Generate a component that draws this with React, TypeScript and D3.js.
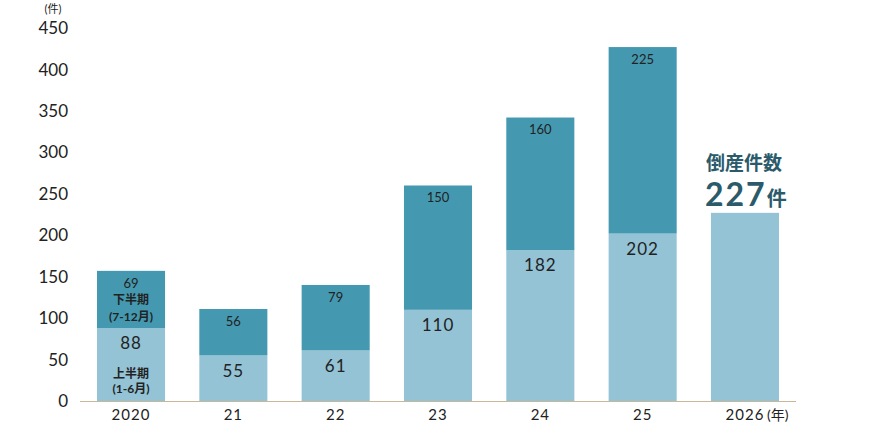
import { scaleBand, scaleLinear } from "d3";

const years = ["2020", "21", "22", "23", "24", "25", "2026"];
const firstHalf = [88, 55, 61, 110, 182, 202, 227];
const secondHalf: (number | null)[] = [69, 56, 79, 150, 160, 225, null];
const yTicks = [0, 50, 100, 150, 200, 250, 300, 350, 400, 450];

const LIGHT = "#93c3d5";
const DARK = "#4499b0";
const INK = "#222";
const FONT = "Lato, 'Noto Sans CJK JP', sans-serif";

const W = 889;
const H = 447;

export default function App() {
  const x = scaleBand<string>()
    .domain(years)
    .range([80, 796])
    .paddingInner(0.335)
    .paddingOuter(0.166);
  const y = scaleLinear().domain([0, 450]).range([401, 28]);
  const bw = x.bandwidth();
  const last = years[years.length - 1];

  return (
    <svg
      width={W}
      height={H}
      style={{ position: "absolute", left: 0, top: 0, background: "#fff" }}
      fontFamily={FONT}
    >
      {yTicks.map((t) => (
        <text key={t} x={68} y={y(t)} dy="0.36em" textAnchor="end" fontSize={17} fill={INK}>
          {t}
        </text>
      ))}
      <text x={53} y={13} textAnchor="middle" fontSize={11} fill={INK}>
        (件)
      </text>

      {years.map((yr, i) => {
        const x0 = x(yr) ?? 0;
        const low = firstHalf[i];
        const high = secondHalf[i];
        const cx = x0 + bw / 2;
        return (
          <g key={yr}>
            <rect x={x0} y={y(low)} width={bw} height={y(0) - y(low)} fill={LIGHT} />
            {high !== null && (
              <>
                <rect x={x0} y={y(low + high)} width={bw} height={y(low) - y(low + high)} fill={DARK} />
                <text x={cx} y={y(low + high) + 12} dy="0.36em" textAnchor="middle" fontSize={13} fill={INK}>
                  {high}
                </text>
                <text x={cx} y={y(low) + 15} dy="0.36em" textAnchor="middle" fontSize={17} fill={INK} letterSpacing={1}>
                  {low}
                </text>
              </>
            )}
          </g>
        );
      })}

      {(() => {
        const cx = (x("2020") ?? 0) + bw / 2;
        return (
          <g fontSize={12} fontWeight="bold" fill={INK} textAnchor="middle">
            <text x={cx} y={300} dy="0.36em">下半期</text>
            <text x={cx} y={317} dy="0.36em">(7-12月)</text>
            <text x={cx} y={374} dy="0.36em">上半期</text>
            <text x={cx} y={389} dy="0.36em">(1-6月)</text>
          </g>
        );
      })()}

      <line x1={80} x2={796} y1={y(0) + 0.5} y2={y(0) + 0.5} stroke="#c8b898" strokeWidth={1} />

      {years.map((yr) => (
        <text
          key={yr}
          x={(x(yr) ?? 0) + bw / 2}
          y={415}
          dy="0.36em"
          textAnchor="middle"
          fontSize={15}
          fill={INK}
          letterSpacing={1}
        >
          {yr}
        </text>
      ))}
      <text x={(x(last) ?? 0) + bw / 2 + 22} y={415} dy="0.36em" fontSize={14} fill={INK}>
        (年)
      </text>

      <g fill="#2b5a6a">
        <text x={706} y={163} dy="0.36em" fontSize={19} fontWeight="bold">
          倒産件数
        </text>
        <text x={705} y={206} fontSize={32} fontWeight="bold" letterSpacing={2}>
          227
          <tspan fontSize={20}>件</tspan>
        </text>
      </g>
    </svg>
  );
}
